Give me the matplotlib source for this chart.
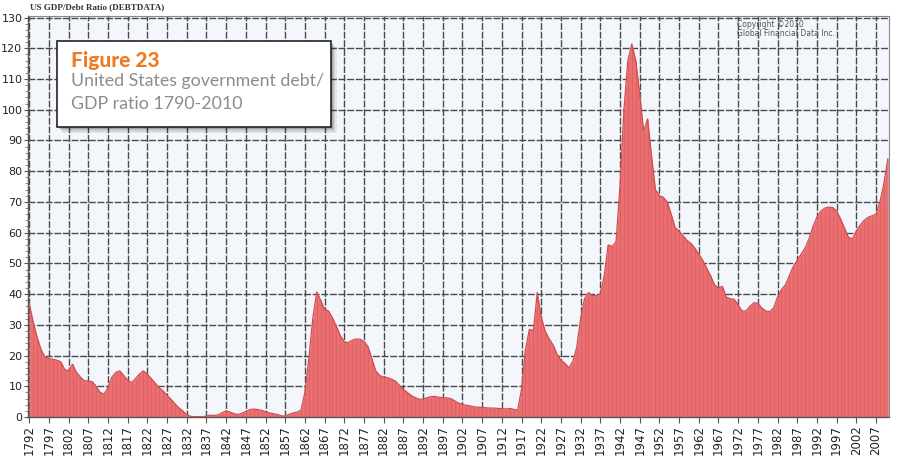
import matplotlib
matplotlib.use("Agg")
import matplotlib.pyplot as plt
from matplotlib.patches import Rectangle
import numpy as np

years = list(range(1792, 2011))
debt_gdp = [
    37, 31, 26, 22, 19.5, 19, 18.8, 18.5, 18, 15.5,            # 1792-1801
    15, 17.2, 14.5, 13, 11.8, 11.7, 11.5, 10, 8, 7.5,          # 1802-1811
    9.5, 13, 14.5, 15, 13.5, 12, 11.2, 12.5, 14, 15,           # 1812-1821
    14, 12.5, 11, 9.5, 8.5, 7, 5.8, 4.3, 3, 2,                 # 1822-1831
    0.8, 0.2, 0.1, 0.1, 0.1, 0.3, 0.6, 0.5, 0.7, 1.4,          # 1832-1841
    2, 1.6, 1.1, 0.8, 1.2, 1.8, 2.4, 2.6, 2.4, 2.2,            # 1842-1851
    1.7, 1.3, 1.1, 0.8, 0.4, 0.3, 0.9, 1.3, 1.6, 2.2,          # 1852-1861
    8, 19, 32, 40.7, 38, 35, 34.5, 32.3, 29.5, 26.5,           # 1862-1871
    24.5, 24.2, 25, 25.4, 25.3, 24.6, 23, 19, 15, 13.5,        # 1872-1881
    13, 12.8, 12.3, 11.7, 10.3, 9, 8, 7, 6.3, 5.8,             # 1882-1891
    5.8, 6.3, 6.6, 6.7, 6.4, 6.3, 6.2, 6, 5.3, 4.5,            # 1892-1901
    4.1, 3.8, 3.6, 3.3, 3.2, 3.1, 3, 2.9, 2.9, 2.8,            # 1902-1911
    2.7, 2.6, 2.8, 2.5, 2.2, 9, 22, 28.5, 28.2, 40.5,          # 1912-1921
    32.5, 28, 25.5, 23.5, 20.5, 18.5, 17.5, 16, 18, 22.5,      # 1922-1931
    32, 38.5, 40.5, 39.5, 39.5, 40, 46, 56, 55.5, 57,          # 1932-1941
    75, 100, 116, 121.4, 116, 105, 93, 97, 85, 74,             # 1942-1951
    72, 71.5, 70, 66, 61.7, 60.5, 59, 57.5, 56.5, 55,          # 1952-1961
    53, 51, 48.5, 46, 43, 42, 42.5, 39, 38.5, 38.3,            # 1962-1971
    36.5, 34.5, 34.5, 36, 37.2, 37, 35.5, 34.5, 34.3, 35.5,    # 1972-1981
    39, 41.5, 43, 46, 49, 51, 53, 55, 58, 62,                  # 1982-1991
    65, 67, 68, 68.3, 68.2, 67, 64.5, 61.5, 58.5, 58,          # 1992-2001
    60.5, 62.5, 64, 65, 65.5, 66, 70, 76, 84,                  # 2002-2010
]
x_ticks = list(range(1792, 2010, 5))
y_ticks = list(range(0, 131, 10))

fig = plt.figure(figsize=(9, 4.68), dpi=100)
fig.patch.set_facecolor("white")
ax = fig.add_axes([28 / 900, 1 - 417 / 468, 861 / 900, 401 / 468])
ax.set_facecolor("#f3f6fb")

yrs = np.array(years, dtype=float)
vals = np.array(debt_gdp, dtype=float)

ax.set_axisbelow(True)
ax.grid(True, which="major", color="#4a4a4a", linestyle=(0, (5, 1.2)), linewidth=1.0)

ax.fill_between(yrs, 0, vals, color="#ec6e70", linewidth=0, zorder=2)
ax.vlines(yrs, 0, vals, color="#c85858", linewidth=0.5, alpha=0.7, zorder=3)
ax.plot(yrs, vals, color="#d04e50", linewidth=0.9, zorder=4)

ax.set_xlim(1791.7, 2010.3)
ax.set_ylim(0, 130.5)
ax.set_xticks(x_ticks)
ax.set_xticklabels([str(v) for v in x_ticks], rotation=90, fontsize=8.5, color="#222222")
ax.set_yticks(y_ticks)
ax.set_yticklabels([str(v) for v in y_ticks], fontsize=8, color="#222222")
ax.set_yticks(np.arange(0, 131, 2), minor=True)
ax.tick_params(axis="x", which="major", length=4, color="#555555", pad=2)
ax.tick_params(axis="y", which="major", length=3, color="#555555", pad=1)
ax.tick_params(axis="y", which="minor", length=2, color="#777777")
for s in ["top", "right"]:
    ax.spines[s].set_color("#888888")
    ax.spines[s].set_linewidth(0.8)
for s in ["left", "bottom"]:
    ax.spines[s].set_color("#555555")
    ax.spines[s].set_linewidth(1.0)

fig.text(30 / 900, 1 - 7 / 468, "US GDP/Debt Ratio (DEBTDATA)", fontsize=6.5,
         family="Liberation Serif", weight="bold", color="#333333", va="center")
fig.text(737 / 900, 1 - 29 / 468, "Copyright \u00a92010\nGlobal Financial Data Inc.",
         fontsize=5.5, color="#555555", va="center", linespacing=1.0)

# overlay box with shadow
for i, a in enumerate([0.06, 0.08, 0.10, 0.12]):
    off = (4 - i) * 1.5
    fig.patches.append(Rectangle(((57 + off) / 900, 1 - (127 + off) / 468),
                                 274 / 900, 86 / 468, transform=fig.transFigure,
                                 facecolor="#000000", alpha=a, edgecolor="none", zorder=9))
fig.patches.append(Rectangle((57 / 900, 1 - 127 / 468), 274 / 900, 86 / 468,
                             transform=fig.transFigure, facecolor="white",
                             edgecolor="#222222", linewidth=1.2, zorder=10))
fig.text(71 / 900, 1 - 60 / 468, "Figure 23", fontsize=15, weight="black",
         family="Lato", color="#f07a22", va="center", zorder=11)
fig.text(71 / 900, 1 - 81 / 468, "United States government debt/", fontsize=12.8,
         family="Lato", color="#8c8c8c", va="center", zorder=11)
fig.text(71 / 900, 1 - 104 / 468, "GDP ratio 1790-2010", fontsize=12.8,
         family="Lato", color="#8c8c8c", va="center", zorder=11)

fig.savefig("out.png", dpi=100)
